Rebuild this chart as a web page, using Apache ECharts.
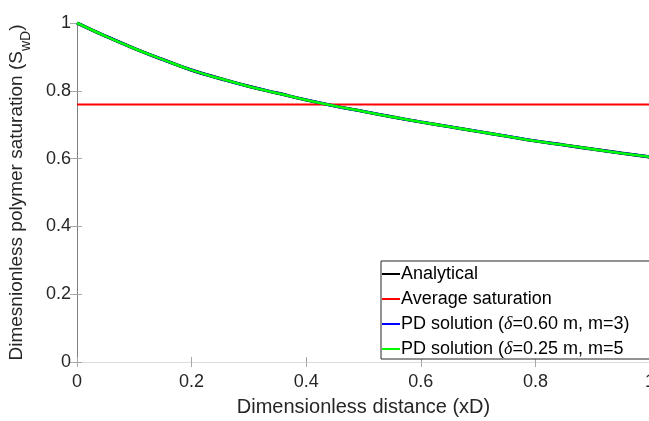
<!DOCTYPE html>
<html>
<head>
<meta charset="utf-8">
<script src="https://cdn.jsdelivr.net/npm/echarts@6/dist/echarts.min.js"></script>
<style>
  html, body { margin: 0; padding: 0; background: #fff; }
  #chart { width: 649px; height: 421px; }
</style>
</head>
<body>
<div id="chart"></div>
<script>
// Dimensionless distance sample points
const xD = [0, 0.05, 0.1, 0.15, 0.2, 0.25, 0.3, 0.35, 0.4, 0.45, 0.5,
            0.55, 0.6, 0.65, 0.7, 0.75, 0.8, 0.85, 0.9, 0.95, 1.0];

// Polymer saturation profiles
const analytical  = [1.000, 0.961, 0.925, 0.892, 0.861, 0.836, 0.813, 0.793, 0.773, 0.755, 0.739,
                     0.723, 0.708, 0.694, 0.680, 0.666, 0.652, 0.640, 0.628, 0.616, 0.605];
const pdSolution1 = [1.000, 0.961, 0.925, 0.892, 0.861, 0.836, 0.813, 0.793, 0.773, 0.755, 0.739,
                     0.723, 0.708, 0.694, 0.680, 0.666, 0.652, 0.640, 0.628, 0.616, 0.605];
const pdSolution2 = [1.000, 0.961, 0.925, 0.892, 0.861, 0.836, 0.813, 0.793, 0.773, 0.755, 0.739,
                     0.723, 0.708, 0.694, 0.680, 0.666, 0.652, 0.640, 0.628, 0.616, 0.605];

// Average saturation over the domain
const averageSaturation = 0.7595;
const averageX = [0, 1];

const seriesNames = [
  'Analytical',
  'Average saturation',
  'PD solution (δ=0.60 m, m=3)',
  'PD solution (δ=0.25 m, m=5'
];

const xTicks = [0, 0.2, 0.4, 0.6, 0.8, 1];
const yTicks = [0, 0.2, 0.4, 0.6, 0.8, 1];

const pairs = (xs, ys) => xs.map((x, i) => [x, ys[i]]);

const FONT = 'Liberation Sans, Arial, sans-serif';
const chart = echarts.init(document.getElementById('chart'));

const tickStyle = { show: true, inside: true, length: 5, lineStyle: { color: '#a8a8a8', width: 1 } };

chart.setOption({
  animation: false,
  backgroundColor: '#ffffff',
  grid: { left: 77, top: 23, width: 573, height: 339, containLabel: false, outerBoundsMode: 'none' },
  xAxis: [
    {
      type: 'value', min: xTicks[0], max: xTicks[xTicks.length - 1], interval: 0.2,
      position: 'bottom',
      axisLine: { show: false },
      axisTick: tickStyle,
      splitLine: { show: false },
      axisLabel: { fontFamily: FONT, fontSize: 18, color: '#262626', margin: 11 },
      name: 'Dimensionless distance (xD)',
      nameLocation: 'middle', nameGap: 35,
      nameTextStyle: { fontFamily: FONT, fontSize: 20, color: '#262626' }
    },
    {
      type: 'value', min: 0, max: 1, interval: 0.2, position: 'top',
      axisLine: { show: true, lineStyle: { color: '#dcdcdc', width: 1 } },
      axisTick: tickStyle,
      axisLabel: { show: false },
      splitLine: { show: false }
    }
  ],
  yAxis: [
    {
      type: 'value', min: yTicks[0], max: yTicks[yTicks.length - 1], interval: 0.2,
      position: 'left',
      axisLine: { show: true, lineStyle: { color: '#808080', width: 1 } },
      axisTick: tickStyle,
      splitLine: { show: false },
      axisLabel: { fontFamily: FONT, fontSize: 18, color: '#262626', margin: 6 },
      name: '{t|Dimesnionless polymer saturation (S}{s|wD}{t|)}',
      nameLocation: 'middle', nameRotate: 90, nameGap: 44,
      nameTextStyle: {
        fontFamily: FONT, fontSize: 19, color: '#262626',
        rich: {
          t: { fontFamily: FONT, fontSize: 19, color: '#262626', lineHeight: 26, verticalAlign: 'top' },
          s: { fontFamily: FONT, fontSize: 14, color: '#262626', lineHeight: 26, verticalAlign: 'bottom', padding: [10, 0, 0, 0] }
        }
      }
    },
    {
      type: 'value', min: 0, max: 1, interval: 0.2, position: 'right',
      axisLine: { show: false },
      axisTick: { show: true, inside: true, length: 7, lineStyle: { color: '#a8a8a8', width: 1 } },
      axisLabel: { show: false },
      splitLine: { show: false }
    }
  ],
  legend: {
    orient: 'vertical',
    left: 381, top: 261,
    padding: [4, 30, 1, 1],
    itemWidth: 18, itemHeight: 2, itemGap: 7,
    icon: 'rect',
    backgroundColor: '#ffffff',
    borderColor: '#262626', borderWidth: 1,
    data: seriesNames,
    formatter: name => name.replace('δ', '{d|δ}'),
    textStyle: {
      fontFamily: FONT, fontSize: 18, color: '#000', lineHeight: 18, padding: [0, 0, 0, -4],
      rich: {
        d: { fontFamily: 'Liberation Serif, serif', fontStyle: 'italic', fontSize: 18, color: '#000' }
      }
    }
  },
  series: [
    {
      name: seriesNames[0], type: 'line', data: pairs(xD, analytical),
      showSymbol: false, smooth: true, color: '#000000',
      lineStyle: { width: 3.2, color: '#000000' }, z: 2
    },
    {
      name: seriesNames[1], type: 'line', data: averageX.map(x => [x, averageSaturation]),
      showSymbol: false, color: '#ff0000',
      lineStyle: { width: 2, color: '#ff0000' }, z: 3
    },
    {
      name: seriesNames[2], type: 'line', data: pairs(xD, pdSolution1),
      showSymbol: false, smooth: true, color: '#0000ff',
      lineStyle: { width: 2.8, color: '#0000ff' }, z: 4
    },
    {
      name: seriesNames[3], type: 'line', data: pairs(xD, pdSolution2),
      showSymbol: false, smooth: true, color: '#00ff00',
      lineStyle: { width: 2.6, color: '#00ff00' }, z: 5
    }
  ]
});
</script>
</body>
</html>
